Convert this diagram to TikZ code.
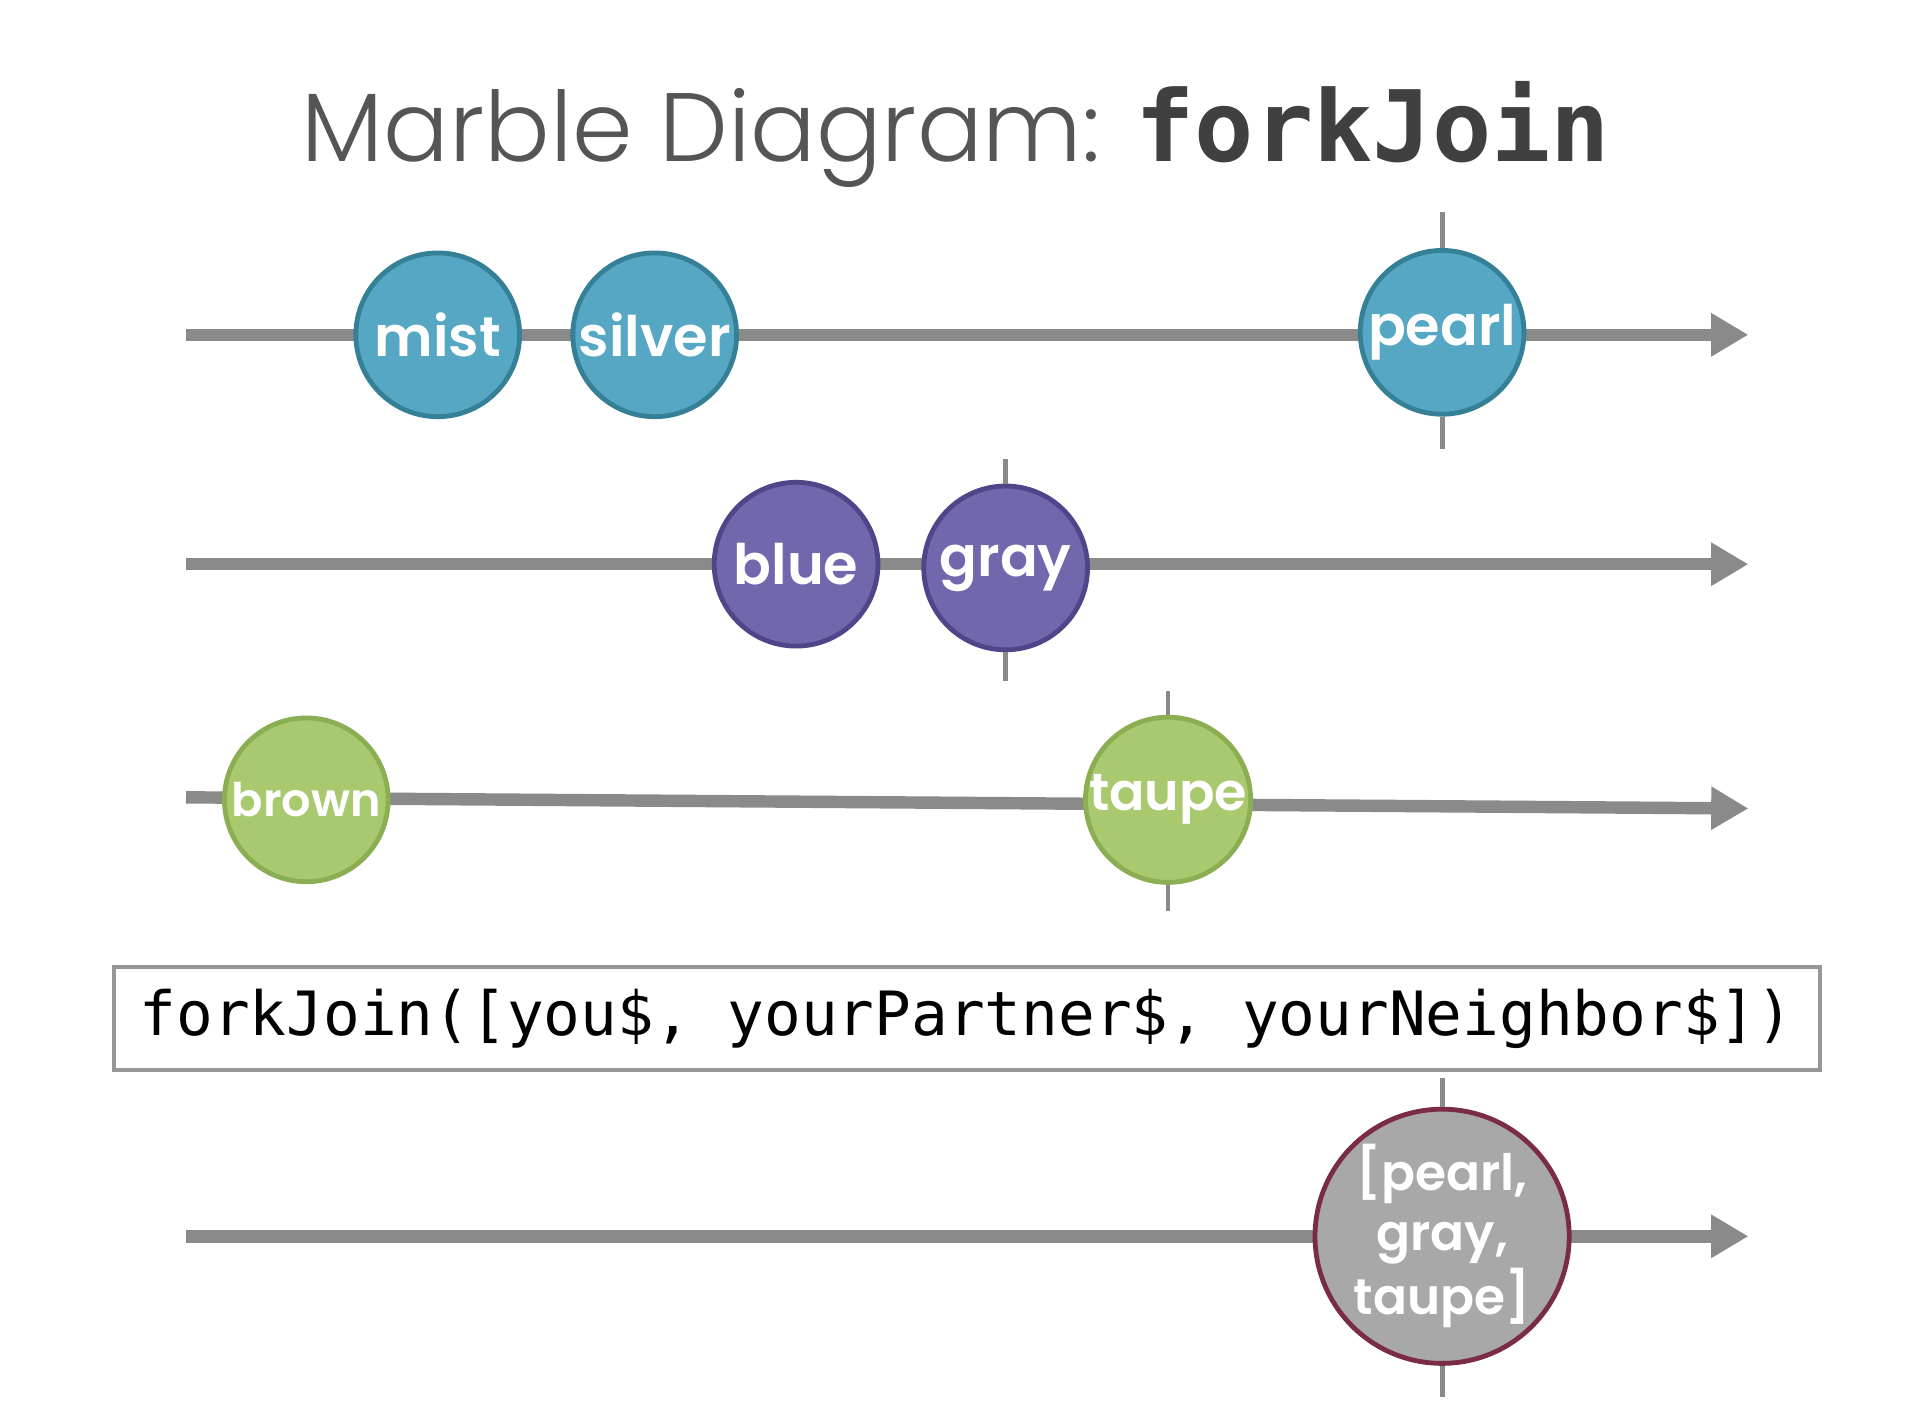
\documentclass[tikz,border=0pt]{standalone}
\usepackage{fontspec}
\setsansfont{Poppins}
\setmonofont{DejaVu Sans Mono}
\newfontfamily\titlefont{Poppins Light}
\newfontfamily\marblefont{Poppins SemiBold}
\usepackage{xcolor}
\usetikzlibrary{arrows.meta}
\definecolor{mbline}{RGB}{138, 138, 138}
\definecolor{mbblue}{RGB}{85, 167, 195}
\definecolor{mbbluedark}{RGB}{53, 127, 151}
\definecolor{mbpurple}{RGB}{112, 103, 172}
\definecolor{mbpurpledark}{RGB}{78, 70, 137}
\definecolor{mbgreen}{RGB}{169, 201, 110}
\definecolor{mbgreendark}{RGB}{138, 174, 81}
\definecolor{mbgray}{RGB}{168, 168, 168}
\definecolor{mbmaroon}{RGB}{122, 43, 70}
\definecolor{mbtitle}{RGB}{85, 85, 85}
\definecolor{mbcode}{RGB}{64, 64, 64}
\definecolor{mbbox}{RGB}{150, 150, 150}
\tikzset{
    timeline/.style={line width=2.85pt, draw=mbline, -{Triangle[length=3mm, width=3.3mm]}},
    tickline/.style={line width=1.1pt, draw=mbline},
    marble/.style={circle, draw, line width=1.1pt, minimum size=1.32cm, inner sep=0pt, text=white, font=\marblefont\fontsize{12.8}{14}\selectfont},
    bluemarble/.style={marble, fill=mbblue, draw=mbbluedark},
    purplemarble/.style={marble, fill=mbpurple, draw=mbpurpledark},
    greenmarble/.style={marble, fill=mbgreen, draw=mbgreendark},
    resultmarble/.style={marble, fill=mbgray, draw=mbmaroon, minimum size=1.88cm, align=center, font=\marblefont\fontsize{11.5}{13.7}\selectfont},
    codebox/.style={draw=mbbox, line width=0.9pt, fill=white, minimum width=13.75cm, minimum height=0.83cm, inner sep=0pt, font=\ttfamily\fontsize{14}{15}\selectfont}
}
\begin{document}
\begin{tikzpicture}[x=0.01cm, y=-0.01cm]
    \useasboundingbox[fill=white] (0,0) rectangle (1550,1130);
    % title
    \node[anchor=base] (title) at (771,130)
        {{\titlefont\fontsize{22.3}{26}\selectfont\color{mbtitle}Marble Diagram: }{\ttfamily\bfseries\fontsize{22.6}{26}\selectfont\color{mbcode}forkJoin}};
    % you$
    \coordinate (s1) at (150,270);
    \coordinate (e1) at (1410,270);
    \draw[timeline] (s1) -- (e1);
    \node[bluemarble] (mist) at (353,270) {mist};
    \node[bluemarble] (silver) at (528,270) {silver};
    \node[bluemarble] (pearl) at (1163,268) {pearl};
    \draw[tickline] (pearl.north) -- ++(0,-29);
    \draw[tickline] (pearl.south) -- ++(0,26);
    % yourPartner$
    \coordinate (s2) at (150,455);
    \coordinate (e2) at (1410,455);
    \draw[timeline] (s2) -- (e2);
    \node[purplemarble] (blue) at (642,455) {blue};
    \node[purplemarble] (gray) at (811,458) {gray};
    \draw[tickline] (gray.north) -- ++(0,-20);
    \draw[tickline] (gray.south) -- ++(0,23);
    % yourNeighbor$
    \coordinate (s3) at (150,643);
    \coordinate (e3) at (1410,652);
    \draw[timeline] (s3) -- (e3);
    \node[greenmarble, font=\marblefont\fontsize{10.6}{12}\selectfont] (brown) at (247,645) {brown};
    \node[greenmarble, font=\marblefont\fontsize{12}{13}\selectfont] (taupe) at (942,645) {taupe};
    \draw[tickline] (taupe.north) -- ++(0,-19);
    \draw[tickline] (taupe.south) -- ++(0,21);
    % operator
    \node[codebox] (op) at (779.5,821.5) {forkJoin([you\$, yourPartner\$, yourNeighbor\$])};
    % result
    \coordinate (s4) at (150,997);
    \coordinate (e4) at (1410,997);
    \draw[timeline] (s4) -- (e4);
    \node[resultmarble] (joined) at (1163,997) {[pearl,\\gray,\\taupe]};
    \draw[tickline] (joined.north) -- ++(0,-23);
    \draw[tickline] (joined.south) -- ++(0,25);
\end{tikzpicture}
\end{document}
